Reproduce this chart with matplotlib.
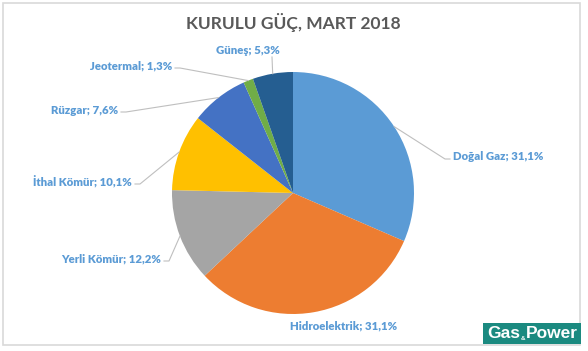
import numpy as np
import matplotlib
matplotlib.use("Agg")
import matplotlib.pyplot as plt
from matplotlib.patches import Rectangle

# ---- data ----
categories = ["Doğal Gaz", "Hidroelektrik", "Yerli Kömür", "İthal Kömür", "Rüzgar", "Jeotermal", "Güneş"]
values = [31.1, 31.1, 12.2, 10.1, 7.6, 1.3, 5.3]
value_labels = ["31,1%", "31,1%", "12,2%", "10,1%", "7,6%", "1,3%", "5,3%"]
colors = ["#5B9BD5", "#ED7D31", "#A5A5A5", "#FFC000", "#4472C4", "#70AD47", "#255E91"]
title = "KURULU GÜÇ, MART 2018"

# ---- layout (pixels, origin top-left) ----
W, H = 588, 351
cx, cy, R = 293, 193, 121
label_pos = [
    (453, 157, "left"),
    (344, 326, "center"),
    (161, 259, "right"),
    (132, 182, "right"),
    (118, 110, "right"),
    (172, 66, "right"),
    (248, 50, "center"),
]

fig = plt.figure(figsize=(W / 100, H / 100), dpi=100)
ax = fig.add_axes([0, 0, 1, 1])

def Y(py):
    return H - py

wedges, _ = ax.pie(values, colors=colors, startangle=90, counterclock=False,
                   center=(cx, Y(cy)), radius=R, frame=True,
                   wedgeprops=dict(linewidth=0))
ax.set_xlim(0, W)
ax.set_ylim(0, H)
ax.set_aspect("equal")
ax.axis("off")

lab_color = "#5B9BD5"
line_color = "#BFBFBF"
font = "Lato"
for i, w in enumerate(wedges):
    ang = np.deg2rad((w.theta1 + w.theta2) / 2)
    ex = cx + R * np.cos(ang)
    ey = Y(cy) + R * np.sin(ang)
    tx, ty, ha = label_pos[i]
    txt = f"{categories[i]}; {value_labels[i]}"
    ax.text(tx, Y(ty), txt, ha=ha, va="center", fontsize=8.2, fontweight="heavy",
            color=lab_color, family=font)
    if ha == "right":
        x0 = tx + 3
        ax.plot([x0, x0 + 5, ex], [Y(ty + 2), Y(ty + 2), ey], color=line_color, lw=0.8)
    elif ha == "left":
        x0 = tx - 3
        ax.plot([x0, x0 - 5, ex], [Y(ty + 2), Y(ty + 2), ey], color=line_color, lw=0.8)
    elif i == 6:
        ax.plot([272, 272, ex], [Y(ty + 7), Y(ty + 7), ey], color=line_color, lw=0.8)

ax.text(293, Y(22), title, ha="center", va="center", fontsize=12.5, fontweight="bold",
        color="#595959", family=font)

# border
ax.add_patch(Rectangle((3, Y(345)), 577, 342, fill=False, edgecolor="#D9D9D9", lw=1.2))

# logo
ax.add_patch(Rectangle((483, Y(344)), 98, 21, facecolor="#1B8A80", edgecolor="none", zorder=5))
renderer = fig.canvas.get_renderer()
t1 = ax.text(487, Y(333.5), "Gas", ha="left", va="center", fontsize=12.5, fontweight="bold",
             color="white", family="Liberation Sans", zorder=6)
x_end = ax.transData.inverted().transform(t1.get_window_extent(renderer).p1)[0]
t2 = ax.text(x_end + 0.5, Y(338), "&", ha="left", va="center", fontsize=4.5, fontweight="bold",
             color="white", family="Liberation Sans", zorder=6)
x_end2 = ax.transData.inverted().transform(t2.get_window_extent(renderer).p1)[0]
ax.text(x_end2 + 0.5, Y(333.5), "Power", ha="left", va="center", fontsize=12.5, fontweight="bold",
        color="white", family="Liberation Sans", zorder=6)

fig.savefig("out.png", dpi=100, facecolor="white")
